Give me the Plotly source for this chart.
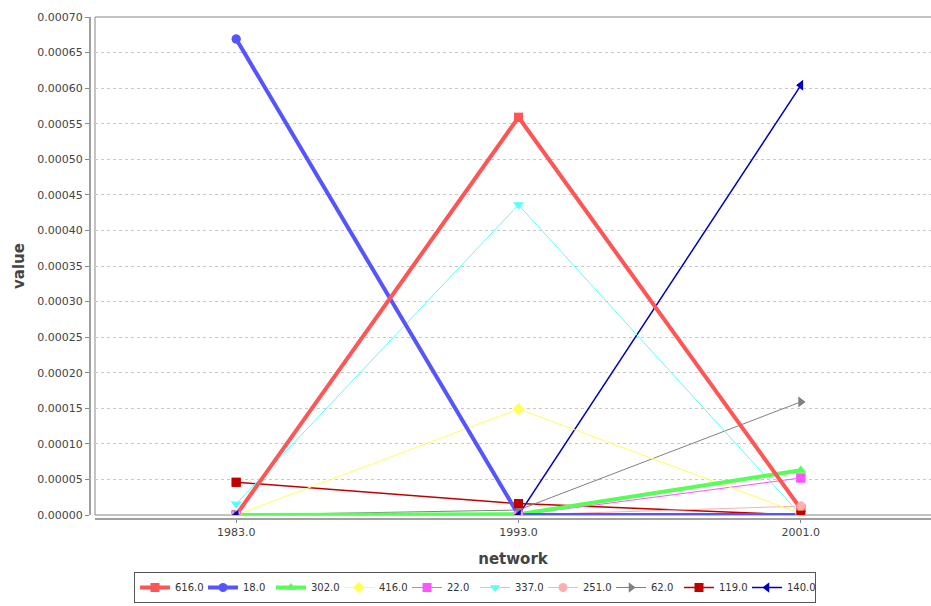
import plotly.graph_objects as go

categories = ["1983.0", "1993.0", "2001.0"]
series_names = ["616.0", "18.0", "302.0", "416.0", "22.0", "337.0", "251.0", "62.0", "119.0", "140.0"]
v616 = [0.0, 0.000559, 0.0000085]
v18 = [0.000669, 0.0, 0.0]
v302 = [0.0, 0.0000010, 0.0000630]
v416 = [0.0, 0.000149, 0.0000020]
v22 = [0.0, 0.0, 0.0000520]
v337 = [0.0000155, 0.000436, 0.0]
v251 = [0.0, 0.0, 0.0000125]
v62 = [0.0, 0.0000070, 0.000159]
v119 = [0.0000460, 0.0000160, 0.0]
v140 = [0.0, 0.0, 0.000604]
series_values = [v616, v18, v302, v416, v22, v337, v251, v62, v119, v140]

colors = ["#FF5555", "#5555FF", "#55FF55", "#FFFF55", "#FF55FF", "#55FFFF",
          "#FFAFAF", "#808080", "#C00000", "#0000C0"]
symbols = ["square", "circle", "triangle-up", "diamond", "square", "triangle-down",
           "circle", "triangle-right", "square", "triangle-left"]
widths = [4, 4, 4, 1, 1, 1, 1, 1, 1.5, 1.5]

xs = list(range(len(categories)))
fig = go.Figure()

# line traces (series 0 drawn last => on top)
for i in reversed(range(len(series_names))):
    fig.add_trace(go.Scatter(
        x=xs, y=series_values[i], name=series_names[i], mode="lines+markers",
        line=dict(color=colors[i], width=widths[i]),
        marker=dict(symbol=symbols[i], size=9, color=colors[i]),
    ))
# marker overlay (shapes drawn over all lines)
for i in range(len(series_names)):
    fig.add_trace(go.Scatter(
        x=xs, y=series_values[i], mode="markers", showlegend=False, hoverinfo="skip",
        marker=dict(symbol=symbols[i], size=9, color=colors[i]),
    ))

L, T, B = 90, 17, 87
W, H = 931 - L, 606 - T - B
fig.update_layout(
    width=931, height=606,
    margin=dict(l=L, r=0, t=T, b=B, autoexpand=False),
    paper_bgcolor="white", plot_bgcolor="white",
    font=dict(family="DejaVu Sans", size=11, color="#444444"),
    xaxis=dict(
        domain=[5 / W, 1], anchor="free", position=0, automargin=False,
        range=[-0.5, (931 - 237) / 282], tickmode="array", tickvals=xs, ticktext=categories,
        showgrid=False, zeroline=False, showline=True, linecolor="#A0A0A0", linewidth=2,
        ticks="outside", ticklen=3, tickcolor="#888888",
        title=dict(text="<b>network</b>", font=dict(size=15, color="#444444"), standoff=14),
    ),
    yaxis=dict(
        domain=[4 / H, 1], anchor="free", position=0, automargin=False,
        range=[0, 0.0007], dtick=0.00005, tickformat=".5f",
        showgrid=True, gridcolor="#C8C8C8", griddash="3px,3px", gridwidth=1,
        zeroline=False, showline=True, linecolor="#A0A0A0", linewidth=2,
        ticks="outside", ticklen=4, tickcolor="#888888",
        title=dict(text="<b>value</b>", font=dict(size=15, color="#444444"), standoff=8),
    ),
    legend=dict(
        orientation="h", x=(475 - L) / W, xanchor="center", y=-84 / H, yanchor="bottom",
        traceorder="reversed", bordercolor="#555555", borderwidth=1, bgcolor="white",
        font=dict(size=10, color="#333333"), itemwidth=30, tracegroupgap=0,
        entrywidth=23, entrywidthmode="pixels",
    ),
    shapes=[dict(type="rect", xref="paper", yref="paper", x0=5 / W, x1=1.002, y0=4 / H, y1=1,
                 line=dict(color="#888888", width=1), layer="below")],
)

fig.write_html("out.html", config={"displayModeBar": False},
               post_script="document.body.style.margin='0px';document.body.style.overflow='hidden';")
